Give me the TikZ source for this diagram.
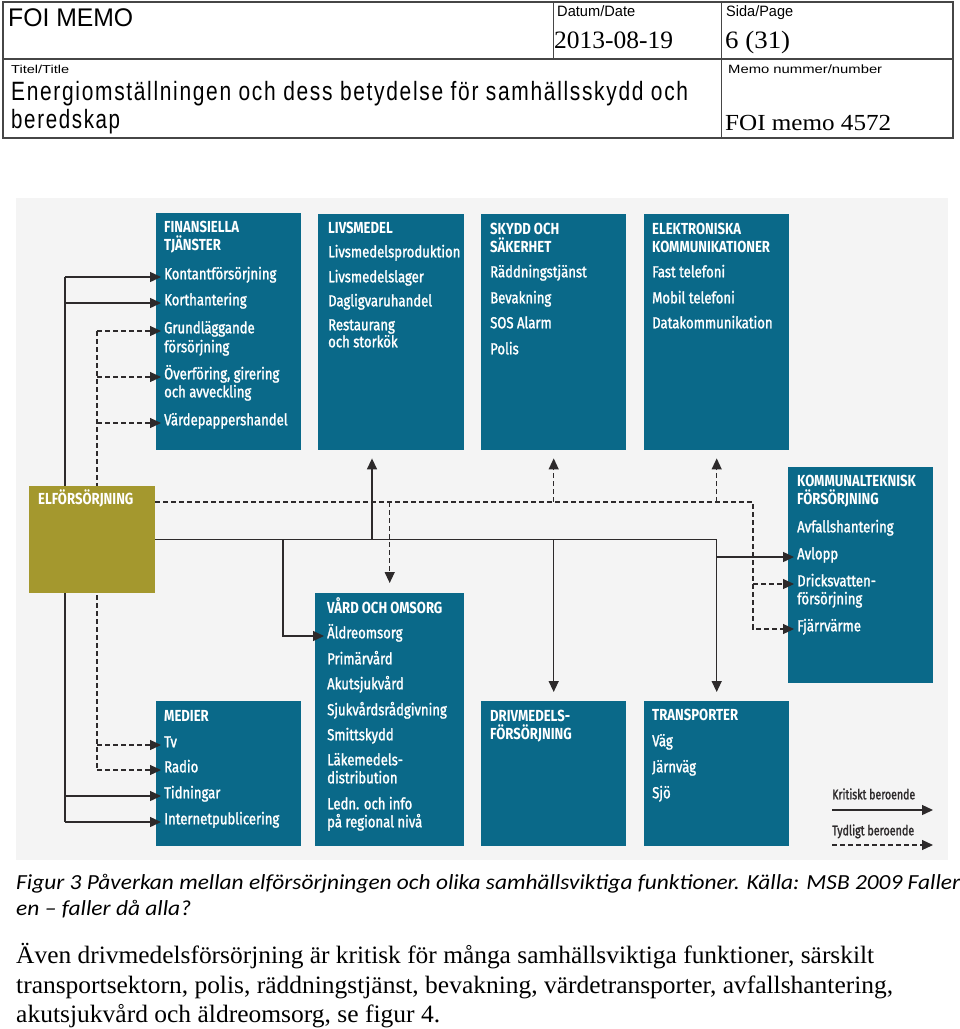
\documentclass[tikz,border=0pt]{standalone}
\usepackage{fontspec}
\usepackage{graphicx}
\usetikzlibrary{arrows.meta}
\setmainfont{Liberation Serif}
\newfontfamily\hsans{Liberation Sans}
\newfontfamily\htitle[LetterSpace=8]{Liberation Sans}
\newfontfamily\hserif{Liberation Serif}
\newfontfamily\bxf[FakeStretch=0.82]{Fira Sans}
\newfontfamily\bxm[FakeStretch=0.82,FakeBold=1.5]{Fira Sans}
\newfontfamily\capf{Carlito}
\newcommand\fitw[2]{\resizebox{#1}{\height}{#2}}
\definecolor{boxteal}{RGB}{10,105,137}
\definecolor{oliveb}{RGB}{164,152,46}
\definecolor{bgc}{RGB}{244,244,244}
\definecolor{linec}{RGB}{45,42,43}
\definecolor{framec}{RGB}{70,70,70}
\begin{document}
\begin{tikzpicture}[x=1pt,y=-1pt,
  bx/.style={fill=boxteal, draw=none, inner sep=0pt, anchor=north west},
  itm/.style={anchor=mid west, inner xsep=3pt, inner ysep=0pt, text=white, font=\bxm\fontsize{16}{18}\selectfont},
  ttl/.style={itm, font=\bxf\bfseries\fontsize{16}{18}\selectfont},
  critline/.style={draw=linec, line width=1.4pt},
  crit/.style={critline, -{Triangle[length=11pt,width=10pt]}},
  depline/.style={draw=linec, line width=1.2pt, dash pattern=on 5pt off 3pt},
  dep/.style={depline, -{Triangle[length=11pt,width=10pt]}},
  hd/.style={anchor=base west, inner sep=0pt, text=black},
  leg/.style={anchor=mid west, inner sep=0pt, text=linec}]
\useasboundingbox (0,0) rectangle (960,1029);
\fill[white] (0,0) rectangle (960,1029);

% ---------- header ----------
\draw[framec, line width=1.1pt] (3,2) rectangle (953,138);
\draw[framec, line width=1.1pt] (3,59) -- (953,59);
\draw[framec, line width=1.1pt] (553.5,2) -- (553.5,59);
\draw[framec, line width=1.1pt] (721.5,2) -- (721.5,138);
\node[hd] (hfoi) at (8,26.7) {\fitw{125pt}{\hsans\fontsize{25.5}{28}\selectfont FOI MEMO}};
\node[hd] (hdat) at (557,16.7) {\fitw{78pt}{\hsans\fontsize{15}{16}\selectfont Datum/Date}};
\node[hd] (hdate) at (554,48) {\fitw{119pt}{\hserif\fontsize{25}{26}\selectfont 2013-08-19}};
\node[hd] (hsid) at (726,16.7) {\fitw{67pt}{\hsans\fontsize{15}{16}\selectfont Sida/Page}};
\node[hd] (hpage) at (725,48) {\fitw{65pt}{\hserif\fontsize{25}{26}\selectfont 6 (31)}};
\node[hd] (htit) at (11,73.5) {\fitw{58pt}{\hsans\fontsize{11.5}{14}\selectfont Titel/Title}};
\node[hd] (hmemo) at (728,73.5) {\fitw{154pt}{\hsans\fontsize{12}{14}\selectfont Memo nummer/number}};
\node[hd] (htl1) at (11,100) {\fitw{677pt}{\htitle\fontsize{26.5}{28}\selectfont Energiomställningen och dess betydelse för samhällsskydd och}};
\node[hd] (htl2) at (11,128.3) {\fitw{109pt}{\htitle\fontsize{26.5}{28}\selectfont beredskap}};
\node[hd] (hnum) at (725,130) {\fitw{166pt}{\hserif\fontsize{23}{26}\selectfont FOI memo 4572}};

% ---------- diagram background ----------
\fill[bgc] (16,198) rectangle (948,860);

% ---------- boxes ----------
\node[bx, minimum width=145pt, minimum height=237pt] (fin) at (156,213) {};
\node[bx, minimum width=146pt, minimum height=236pt] (liv) at (318,214) {};
\node[bx, minimum width=145pt, minimum height=236pt] (sky) at (481,214) {};
\node[bx, minimum width=145pt, minimum height=236pt] (ele) at (644,214) {};
\node[bx, minimum width=149pt, minimum height=253pt] (vard) at (315,593) {};
\node[bx, minimum width=145pt, minimum height=145pt] (med) at (156,701) {};
\node[bx, minimum width=145pt, minimum height=145pt] (drv) at (481,701) {};
\node[bx, minimum width=145pt, minimum height=145pt] (tra) at (644,701) {};
\node[bx, minimum width=145pt, minimum height=216pt] (kom) at (788,467) {};
\path (29,486) node[bx, fill=none, minimum width=126pt, minimum height=107pt] (el) {};

% ---------- box texts ----------
\node[ttl] (fT1) at (161,230) {FINANSIELLA};
\node[ttl] (fT2) at (161,248) {TJÄNSTER};
\node[itm] (f1) at (161,277) {Kontantförsörjning};
\node[itm] (f2) at (161,303) {Korthantering};
\node[itm] (f3) at (161,331) {Grundläggande};
\node[itm] (f3b) at (161,350) {försörjning};
\node[itm] (f4) at (161,377) {Överföring, girering};
\node[itm] (f4b) at (161,395) {och avveckling};
\node[itm] (f5) at (161,423) {Värdepappershandel};

\node[ttl] (lT1) at (325,231) {LIVSMEDEL};
\node[itm] (l1) at (325,255) {Livsmedelsproduktion};
\node[itm] (l2) at (325,280) {Livsmedelslager};
\node[itm] (l3) at (325,304) {Dagligvaruhandel};
\node[itm] (l4) at (325,328) {Restaurang};
\node[itm] (l4b) at (325,345) {och storkök};

\node[ttl] (sT1) at (487,232) {SKYDD OCH};
\node[ttl] (sT2) at (487,250) {SÄKERHET};
\node[itm] (s1) at (487,275) {Räddningstjänst};
\node[itm] (s2) at (487,301) {Bevakning};
\node[itm] (s3) at (487,326) {SOS Alarm};
\node[itm] (s4) at (487,352) {Polis};

\node[ttl] (eT1) at (649,232) {ELEKTRONISKA};
\node[ttl] (eT2) at (649,250) {KOMMUNIKATIONER};
\node[itm] (e1) at (649,275) {Fast telefoni};
\node[itm] (e2) at (649,301) {Mobil telefoni};
\node[itm] (e3) at (649,326) {Datakommunikation};

\node[ttl] (vT1) at (324,611) {VÅRD OCH OMSORG};
\node[itm] (v1) at (324,636) {Äldreomsorg};
\node[itm] (v2) at (324,662) {Primärvård};
\node[itm] (v3) at (324,687) {Akutsjukvård};
\node[itm] (v4) at (324,713) {Sjukvårdsrådgivning};
\node[itm] (v5) at (324,738) {Smittskydd};
\node[itm] (v6) at (324,763) {Läkemedels-};
\node[itm] (v6b) at (324,781) {distribution};
\node[itm] (v7) at (324,807) {Ledn. och info};
\node[itm] (v7b) at (324,825) {på regional nivå};

\node[ttl] (mT1) at (161,719) {MEDIER};
\node[itm] (m1) at (161,745) {Tv};
\node[itm] (m2) at (161,770) {Radio};
\node[itm] (m3) at (161,796) {Tidningar};
\node[itm] (m4) at (161,822) {Internetpublicering};

\node[ttl] (dT1) at (487,719) {DRIVMEDELS-};
\node[ttl] (dT2) at (487,737) {FÖRSÖRJNING};

\node[ttl] (tT1) at (649,718) {TRANSPORTER};
\node[itm] (t1) at (649,744) {Väg};
\node[itm] (t2) at (649,770) {Järnväg};
\node[itm] (t3) at (649,796) {Sjö};

\node[ttl] (kT1) at (794,484) {KOMMUNALTEKNISK};
\node[ttl] (kT2) at (794,502) {FÖRSÖRJNING};
\node[itm] (k1) at (794,530) {Avfallshantering};
\node[itm] (k2) at (794,557) {Avlopp};
\node[itm] (k3) at (794,584) {Dricksvatten-};
\node[itm] (k3b) at (794,602) {försörjning};
\node[itm] (k4) at (794,629) {Fjärrvärme};

% ---------- connectors ----------
\coordinate (spL) at (65,0);
\coordinate (spD) at (97,0);
% left solid spine (behind ELFÖRSÖRJNING)
\draw[critline] (spL |- f1.mid west) -- (spL |- m4.mid west);
\draw[crit] (spL |- f1.mid west) -- (f1.mid west);
\draw[crit] (spL |- f2.mid west) -- (f2.mid west);
\draw[crit] (spL |- m3.mid west) -- (m3.mid west);
\draw[crit] (spL |- m4.mid west) -- (m4.mid west);
% left dashed spine
\draw[depline] (spD |- f3.mid west) -- (spD |- m2.mid west);
\draw[dep] (spD |- f3.mid west) -- (f3.mid west);
\draw[dep] (spD |- f4.mid west) -- (f4.mid west);
\draw[dep] (spD |- f5.mid west) -- (f5.mid west);
\draw[dep] (spD |- m1.mid west) -- (m1.mid west);
\draw[dep] (spD |- m2.mid west) -- (m2.mid west);

% main solid line
\draw[crit, shorten >=9pt] (el.east) -| (tra.north);
\coordinate (j1) at (372,539.5);
\coordinate (j2) at (283,539.5);
\draw[crit, shorten >=8pt] (j1) -- (j1 |- liv.south);
\draw[crit] (j2) |- (v1.mid west);
\draw[crit, shorten >=9pt] (drv.north |- el.east) -- (drv.north);
\draw[crit] (tra.north |- k2.mid west) -- (k2.mid west);

% main dashed line
\path (el.north east) ++(0,16) coordinate (d0);
\coordinate (dR) at (753,502);
\draw[dep] (d0) -- (dR) |- (k4.mid west);
\draw[dep] (dR |- k3.mid west) -- (k3.mid west);
\draw[dep, shorten >=8pt] (ele.south |- d0) -- (ele.south);
\draw[dep, shorten >=8pt] (sky.south |- d0) -- (sky.south);
\draw[dep, shorten >=10pt] (vard.north |- d0) -- (vard.north);

% ELFÖRSÖRJNING box on top of spines
\fill[oliveb] (el.north west) rectangle (el.south east);
\node[ttl] (elT) at (35,502) {ELFÖRSÖRJNING};

% ---------- legend ----------
\node[leg] (lg1) at (832,797) {\fitw{83pt}{\bxm\fontsize{14}{16}\selectfont Kritiskt beroende}};
\node[leg] (lg2) at (832,833) {\fitw{82pt}{\bxm\fontsize{14}{16}\selectfont Tydligt beroende}};
\coordinate (la1) at (832,810);
\coordinate (lb1) at (933,810);
\coordinate (la2) at (832,845);
\coordinate (lb2) at (933,845);
\draw[crit] (la1) -- (lb1);
\draw[dep] (la2) -- (lb2);

% ---------- caption and body ----------
\node[hd] (cap1) at (16,889) {\fitw{944pt}{\capf\itshape\fontsize{21.5}{24}\selectfont Figur 3 Påverkan mellan elförsörjningen och olika samhällsviktiga funktioner. Källa: MSB 2009 Faller}};
\node[hd] (cap2) at (16,915) {\fitw{175pt}{\capf\itshape\fontsize{21.5}{24}\selectfont en – faller då alla?}};
\node[hd] (b1) at (16,963) {\fitw{858pt}{\hserif\fontsize{25}{28}\selectfont Även drivmedelsförsörjning är kritisk för många samhällsviktiga funktioner, särskilt}};
\node[hd] (b2) at (16,993) {\fitw{877pt}{\hserif\fontsize{25}{28}\selectfont transportsektorn, polis, räddningstjänst, bevakning, värdetransporter, avfallshantering,}};
\node[hd] (b3) at (16,1022) {\fitw{424pt}{\hserif\fontsize{25}{28}\selectfont akutsjukvård och äldreomsorg, se figur 4.}};
\end{tikzpicture}
\end{document}
